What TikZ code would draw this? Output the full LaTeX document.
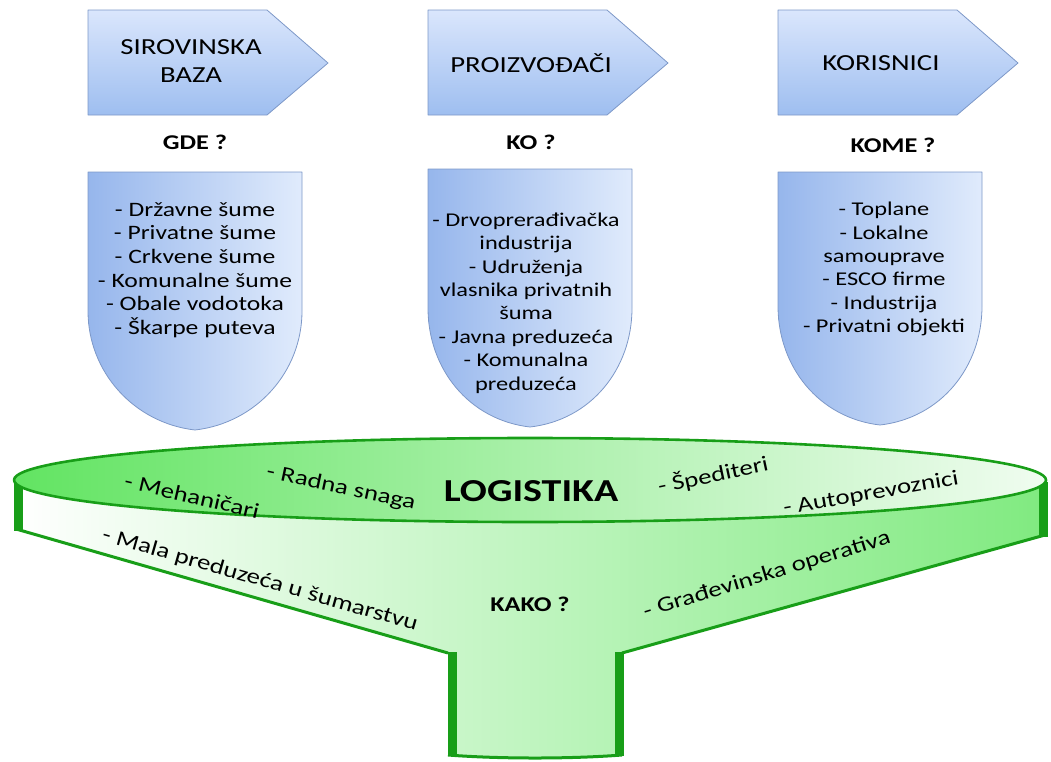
\documentclass[tikz,border=0pt]{standalone}
\usepackage{fontspec}
\setmainfont{Carlito}[FakeStretch=1.25]
\definecolor{boxtop}{RGB}{218,230,252}
\definecolor{boxbot}{RGB}{158,190,240}
\definecolor{boxline}{RGB}{125,152,200}
\definecolor{shleft}{RGB}{150,182,236}
\definecolor{shright}{RGB}{224,235,252}
\definecolor{fundark}{RGB}{24,158,24}
\definecolor{lidleft}{RGB}{98,228,98}
\definecolor{lidright}{RGB}{240,252,240}
\definecolor{bodymid}{RGB}{196,244,196}
\definecolor{bodyright}{RGB}{128,234,128}
\tikzset{
  tagbox/.style={draw=boxline, line width=.8pt, top color=boxtop, bottom color=boxbot},
  shieldbox/.style={draw=boxline, line width=.8pt, left color=shleft, right color=shright},
  tagtxt/.style={align=center, font=\fontsize{23}{28}\selectfont},
  asktxt/.style={font=\bfseries\fontsize{21}{25}\selectfont},
  listtxt/.style={align=center, font=\fontsize{19.5}{23.4}\selectfont},
  funtxt/.style={font=\fontsize{21.5}{25}\selectfont},
}
% arrow tag: #1 = left x
\newcommand{\tagarrow}[1]{\path[tagbox] (#1,10) -- ({#1+179},10) -- ({#1+240},63) -- ({#1+179},115) -- (#1,115) -- cycle;}
% shield: #1 left x, #2 right x, #3 top y, #4 tip y
\newcommand{\shield}[4]{\path[shieldbox] (#1,#3) -- (#1,{#4-119})
  .. controls (#1,{#4-58}) and ({(#1+#2)/2-61},{#4-7}) .. ({(#1+#2)/2},#4)
  .. controls ({(#1+#2)/2+61},{#4-7}) and (#2,{#4-58}) .. (#2,{#4-119}) -- (#2,#3) -- cycle;}
\begin{document}
\begin{tikzpicture}[x=1pt, y=-1pt, line join=round]
\useasboundingbox (0,0) rectangle (1051,761);
% top row
\tagarrow{88}
\tagarrow{428}
\tagarrow{778}
\node[tagtxt] (sirovina) at (191,61) {SIROVINSKA\\BAZA};
\node[tagtxt] (proizv) at (531,63) {PROIZVOĐAČI};
\node[tagtxt] (korisn) at (881,63) {KORISNICI};
\node[asktxt] (gde) at (195,142) {GDE ?};
\node[asktxt] (ko) at (531,142) {KO ?};
\node[asktxt] (kome) at (893,145) {KOME ?};
% shields
\shield{88}{302}{172}{430}
\shield{428}{632}{169}{427}
\shield{778}{982}{172}{425}
\node[listtxt, font=\fontsize{20.5}{23.6}\selectfont] (gdelist) at (195,270) {- Državne šume\\- Privatne šume\\- Crkvene šume\\- Komunalne šume\\- Obale vodotoka\\- Škarpe puteva};
\node[listtxt] (kolist) at (526,303) {- Drvoprerađivačka\\industrija\\- Udruženja\\vlasnika privatnih\\šuma\\- Javna preduzeća\\- Komunalna\\preduzeća};
\node[listtxt] (komelist) at (884,269) {- Toplane\\- Lokalne\\samouprave\\- ESCO firme\\- Industrija\\- Privatni objekti};
% funnel
\path[left color=white, middle color=bodymid, right color=bodyright]
  (13,480) -- (13,529) -- (448,653) -- (448,755) .. controls (500,759) and (570,759) .. (622,755)
  -- (622,653) -- (1047,535) -- (1047,480) -- cycle;
\draw[fundark, line width=3pt] (16,529) -- (448,653) (622,653) -- (1045,535)
  (448,755) .. controls (500,759) and (570,759) .. (622,755);
\draw[fundark, line width=9pt] (18,482) -- (18,531) (1043,482) -- (1043,537)
  (452,652) -- (452,756) (619,652) -- (619,756);
\path[draw=fundark, line width=2.6pt, left color=lidleft, right color=lidright] (530,480) ellipse [x radius=516, y radius=42];
\node[funtxt, rotate=-13] (mehan) at (192,496) {- Mehaničari};
\node[funtxt, rotate=-12] (radna) at (341,488) {- Radna snaga};
\node[font=\bfseries\fontsize{32}{36}\selectfont] (logist) at (531,491) {LOGISTIKA};
\node[funtxt, rotate=12] (sped) at (713,475) {- Špediteri};
\node[funtxt, rotate=10] (auto) at (871,494) {- Autoprevoznici};
\node[funtxt, rotate=-16] (mala) at (260,580) {- Mala preduzeća u šumarstvu};
\node[asktxt] (kako) at (530,604) {KAKO ?};
\node[funtxt, rotate=17] (gradj) at (767,575) {- Građevinska operativa};
\end{tikzpicture}
\end{document}
